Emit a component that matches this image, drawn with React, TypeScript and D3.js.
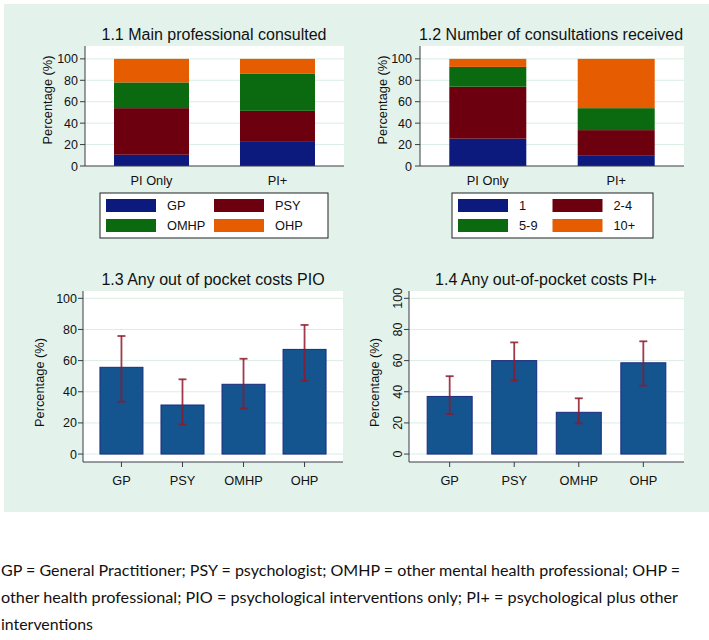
import React from "react";
import * as d3 from "d3";

const groups = ["PI Only", "PI+"];
const profCats = ["GP", "PSY", "OMHP", "OHP"];
const profPIOnly = [10.5, 43.5, 24, 22];
const profPIPlus = [22.5, 29, 34.5, 14];
const consultCats = ["1", "2-4", "5-9", "10+"];
const consultPIOnly = [25.5, 48.5, 18.5, 7.5];
const consultPIPlus = [9.5, 24, 20.5, 46];

const pioValues = [55.7, 31.5, 44.8, 67.2];
const pioLower = [33.6, 19, 29.3, 47.1];
const pioUpper = [75.8, 48, 61.2, 82.9];
const piPlusValues = [37, 60, 26.8, 58.6];
const piPlusLower = [25.7, 47.3, 19.7, 43.9];
const piPlusUpper = [50, 71.7, 35.8, 72.4];

const yTicks = [0, 20, 40, 60, 80, 100];
const titles = [
  "1.1 Main professional consulted",
  "1.2 Number of consultations received",
  "1.3 Any out of pocket costs PIO",
  "1.4 Any out-of-pocket costs PI+",
];
const footLines = [
  "GP = General Practitioner; PSY = psychologist; OMHP = other mental health professional; OHP =",
  "other health professional; PIO = psychological interventions only; PI+ = psychological plus other",
  "interventions",
];

const stackColors = ["#0b1a7c", "#6c000f", "#0b6a10", "#e65c00"];
const FONT = "'Liberation Sans', Arial, sans-serif";
const MINT = "#e3f3ec";
const GRID = "#d9eee6";
const AXIS = "#3a3a44";

type StackProps = {
  left: number; right: number; top: number; bottom: number;
  title: string; cats: string[]; series: number[][]; barW: number;
  labelX: number; legendX: number; legendW: number; titleX: number;
};

function StackPanel(p: StackProps) {
  const y = d3.scaleLinear().domain([0, 112]).range([p.bottom, p.top]);
  const x = d3.scalePoint<string>().domain(groups).range([p.left, p.right]).padding(0.528);
  const stacked = p.series.map((vals) => {
    const cum = d3.cumsum(vals);
    return vals.map((v, i) => ({ y0: cum[i] - v, y1: cum[i] }));
  });
  const lx = p.legendX;
  const ly = p.bottom + 27;
  const colW = (p.legendW - 12) / 2;
  return (
    <g>
      <text x={p.titleX} y={p.top - 6} textAnchor="middle" fontSize={16} fontFamily={FONT} fill="#111">{p.title}</text>
      <rect x={p.left} y={p.top} width={p.right - p.left} height={p.bottom - p.top} fill="#fff" />
      {yTicks.slice(1).map((t) => (
        <line key={t} x1={p.left} x2={p.right} y1={y(t)} y2={y(t)} stroke={GRID} strokeWidth={1} />
      ))}
      {groups.map((g, gi) =>
        stacked[gi].map((s, i) => (
          <rect key={g + i} x={(x(g) as number) - p.barW / 2} width={p.barW} y={y(s.y1)} height={y(s.y0) - y(s.y1)} fill={stackColors[i]} />
        ))
      )}
      <line x1={p.left} x2={p.left} y1={p.top} y2={p.bottom} stroke={AXIS} strokeWidth={1} />
      <line x1={p.left} x2={p.right} y1={p.bottom} y2={p.bottom} stroke={AXIS} strokeWidth={1} />
      {yTicks.map((t) => (
        <g key={t}>
          <line x1={p.left - 5} x2={p.left} y1={y(t)} y2={y(t)} stroke={AXIS} />
          <text x={p.labelX} y={y(t) + 4.5} textAnchor="end" fontSize={12.5} fontFamily={FONT} fill="#111">{t}</text>
        </g>
      ))}
      <text transform={`translate(${p.left - 33},${(p.top + p.bottom) / 2 - 6}) rotate(-90)`} textAnchor="middle" fontSize={12.8} fontFamily={FONT} fill="#111">Percentage (%)</text>
      {groups.map((g) => (
        <text key={g} x={x(g)} y={p.bottom + 18.5} textAnchor="middle" fontSize={12.8} fontFamily={FONT} fill="#111">{g}</text>
      ))}
      <rect x={lx} y={ly} width={p.legendW} height={45} fill="#fff" stroke="#222" strokeWidth={1} />
      {p.cats.map((c, i) => {
        const col = i % 2;
        const row = Math.floor(i / 2);
        const sx = lx + 6 + col * colW;
        const sy = ly + 6 + row * 20;
        return (
          <g key={c}>
            <rect x={sx} y={sy} width={50} height={13} fill={stackColors[i]} />
            <text x={sx + 61} y={sy + 11} fontSize={12.8} fontFamily={FONT} fill="#111">{c}</text>
          </g>
        );
      })}
    </g>
  );
}

type BarProps = {
  left: number; right: number; top: number; bottom: number;
  title: string; values: number[]; lower: number[]; upper: number[];
  barW: number; rotated: boolean; titleX: number;
};

function BarPanel(p: BarProps) {
  const y = d3.scaleLinear().domain([-5.1, 104.7]).range([p.bottom, p.top]);
  const x = d3.scalePoint<string>().domain(profCats).range([p.left, p.right]).padding(0.63);
  return (
    <g>
      <text x={p.titleX} y={p.top - 6} textAnchor="middle" fontSize={16} fontFamily={FONT} fill="#111">{p.title}</text>
      <rect x={p.left} y={p.top} width={p.right - p.left} height={p.bottom - p.top} fill="#fff" />
      {yTicks.map((t) => (
        <line key={t} x1={p.left} x2={p.right} y1={y(t)} y2={y(t)} stroke={GRID} strokeWidth={1} />
      ))}
      {profCats.map((c, i) => (
        <rect key={c} x={(x(c) as number) - p.barW / 2} width={p.barW} y={y(p.values[i])} height={y(0) - y(p.values[i])} fill="#14558f" stroke="#1b2a80" strokeWidth={1} />
      ))}
      {profCats.map((c, i) => {
        const cx = x(c) as number;
        return (
          <g key={c} stroke="#8e1a2c" strokeWidth={1.8} strokeOpacity={0.85}>
            <line x1={cx} x2={cx} y1={y(p.upper[i])} y2={y(p.lower[i])} />
            <line x1={cx - 4} x2={cx + 4} y1={y(p.upper[i])} y2={y(p.upper[i])} />
            <line x1={cx - 4} x2={cx + 4} y1={y(p.lower[i])} y2={y(p.lower[i])} />
          </g>
        );
      })}
      <line x1={p.left} x2={p.left} y1={p.top} y2={p.bottom} stroke={AXIS} />
      <line x1={p.left} x2={p.right} y1={p.bottom} y2={p.bottom} stroke={AXIS} />
      {yTicks.map((t) => (
        <g key={t}>
          <line x1={p.left - 5} x2={p.left} y1={y(t)} y2={y(t)} stroke={AXIS} />
          {p.rotated ? (
            <text transform={`translate(${p.left - 7},${y(t)}) rotate(-90)`} textAnchor="middle" fontSize={12.5} fontFamily={FONT} fill="#111">{t}</text>
          ) : (
            <text x={p.left - 6} y={y(t) + 4.5} textAnchor="end" fontSize={12.5} fontFamily={FONT} fill="#111">{t}</text>
          )}
        </g>
      ))}
      <text transform={`translate(${p.rotated ? p.left - 30 : p.left - 39},${(p.top + p.bottom) / 2 + 6}) rotate(-90)`} textAnchor="middle" fontSize={12.8} fontFamily={FONT} fill="#111">Percentage (%)</text>
      {profCats.map((c) => (
        <g key={c}>
          <line x1={x(c)} x2={x(c)} y1={p.bottom} y2={p.bottom + 5} stroke={AXIS} />
          <text x={x(c)} y={p.bottom + 23} textAnchor="middle" fontSize={12.8} fontFamily={FONT} fill="#111">{c}</text>
        </g>
      ))}
    </g>
  );
}

export default function App() {
  return (
    <svg width={709} height={640} style={{ position: "absolute", left: 0, top: 0, background: "#fff" }}>
      <rect x={0} y={0} width={709} height={640} fill="#fff" />
      <rect x={4} y={4} width={705} height={508} fill={MINT} />
      <StackPanel left={85} right={344} top={46} bottom={166} title={titles[0]} cats={profCats}
        series={[profPIOnly, profPIPlus]} barW={75} labelX={78} legendX={100} legendW={228} titleX={214} />
      <StackPanel left={420} right={684} top={46} bottom={166} title={titles[1]} cats={consultCats}
        series={[consultPIOnly, consultPIPlus]} barW={77} labelX={412} legendX={452} legendW={201} titleX={551} />
      <BarPanel left={83} right={343} top={291} bottom={462} title={titles[2]} values={pioValues}
        lower={pioLower} upper={pioUpper} barW={43} rotated={false} titleX={213} />
      <BarPanel left={409} right={684} top={291} bottom={462} title={titles[3]} values={piPlusValues}
        lower={piPlusLower} upper={piPlusUpper} barW={45} rotated={true} titleX={546} />
      {footLines.map((l, i) => (
        <text key={i} x={1} y={576 + i * 27} fontSize={16} fontFamily="Lato, 'Open Sans', sans-serif" fill="#111"
          textLength={i === 0 ? 679 : i === 1 ? 677 : 92} lengthAdjust="spacingAndGlyphs">{l}</text>
      ))}
    </svg>
  );
}
